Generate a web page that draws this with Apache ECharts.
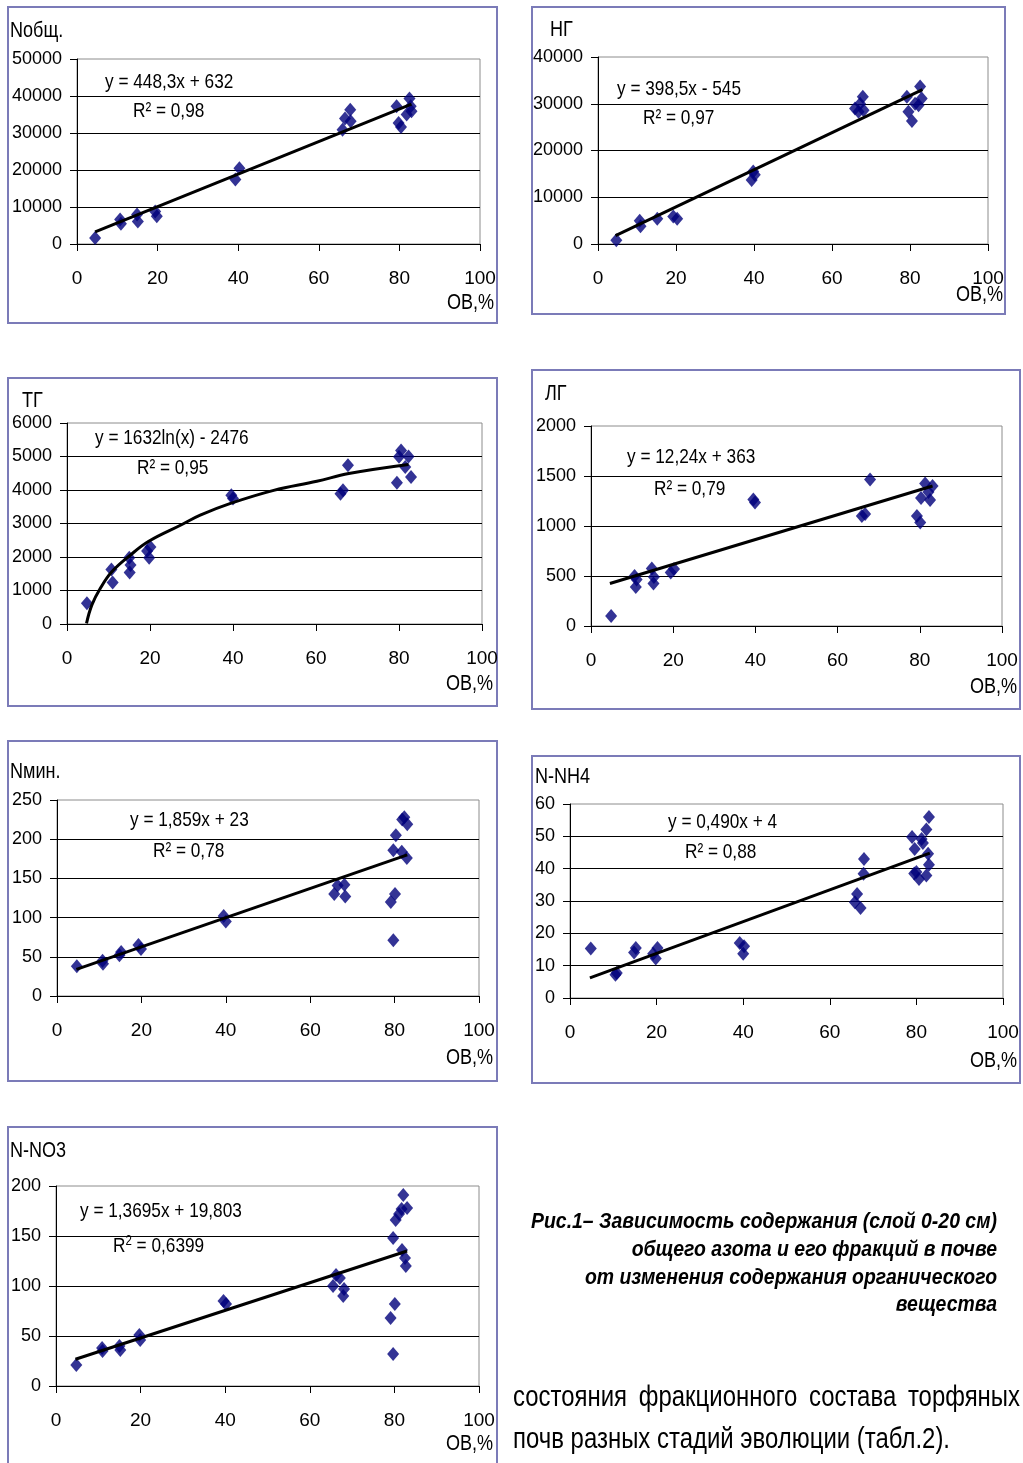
<!DOCTYPE html>
<html>
<head>
<meta charset="utf-8">
<script src="https://cdn.jsdelivr.net/npm/echarts@6/dist/echarts.min.js"></script>
<style>
html,body{margin:0;padding:0;background:#fff;}
#c{width:1023px;height:1463px;}
</style>
</head>
<body>
<div id="c"></div>
<script>
// ---------- DATA ----------
var xTicks = [0, 20, 40, 60, 80, 100];

// Nобщ.
var nobX = [4.5, 10.7, 10.9, 14.9, 15.1, 19.4, 19.8, 39.3, 40.3, 65.9, 66.5, 67.8, 67.9, 79.3, 79.8, 80.4, 81.8, 82.5, 82.8, 83.0];
var nobY = [1600, 6600, 5500, 8000, 6100, 8800, 7500, 17400, 20500, 30900, 33900, 36300, 33200, 37200, 32700, 31600, 35000, 39300, 37200, 35900];
var nobTrendX = [4.5, 83];
var nobTrendY = [3300, 37800];

// НГ
var ngX = [4.7, 10.7, 10.9, 15.2, 19.3, 20.3, 39.4, 39.8, 40.2, 65.9, 66.8, 67.2, 67.9, 68.1, 79.2, 79.6, 80.5, 81.3, 82.2, 82.6, 83.0];
var ngY = [780, 5000, 3800, 5400, 5900, 5400, 13700, 15500, 14800, 29000, 28300, 30000, 31500, 28600, 31500, 28300, 26300, 30000, 29700, 33700, 31100];
var ngTrendX = [4.5, 83.2];
var ngTrendY = [1780, 33000];

// ТГ
var tgX = [4.8, 10.7, 11.0, 15.0, 15.3, 15.1, 19.3, 19.8, 20.1, 39.6, 40.0, 65.9, 66.5, 67.7, 79.5, 80.0, 80.5, 81.5, 82.3, 82.9];
var tgY = [620, 1630, 1240, 1980, 1760, 1540, 2180, 1980, 2300, 3840, 3750, 3890, 3990, 4740, 4220, 4990, 5180, 4690, 5000, 4390];
var tgTrendX = [4.7, 6, 8, 10.8, 15.3, 19.7, 27.7, 32.1, 39.4, 49.8, 60.2, 67.9, 82.3];
var tgTrendY = [20, 570, 1060, 1560, 2060, 2470, 2970, 3250, 3600, 3990, 4260, 4490, 4760];

// ЛГ
var lgX = [4.9, 10.6, 10.9, 11.1, 14.8, 15.2, 15.3, 19.4, 20.2, 39.5, 39.9, 65.9, 66.7, 67.9, 79.3, 80.1, 80.3, 81.3, 82.1, 82.5, 83.1];
var lgY = [100, 500, 390, 465, 575, 425, 490, 535, 570, 1265, 1235, 1100, 1120, 1465, 1100, 1035, 1280, 1425, 1340, 1260, 1400];
var lgTrendX = [4.6, 83.1];
var lgTrendY = [425, 1400];

// Nмин.
var nminX = [4.7, 10.8, 10.9, 14.8, 15.2, 19.3, 19.9, 39.5, 40.0, 65.7, 66.5, 68.1, 68.3, 79.1, 80.1, 79.7, 79.7, 80.3, 81.7, 81.8, 82.3, 83.0, 82.9];
var nminY = [38, 45, 41, 52, 56, 65, 60, 102, 95, 130, 141, 142, 127, 120, 130, 71, 186, 205, 184, 225, 228, 219, 176];
var nminTrendX = [4.6, 83];
var nminTrendY = [34, 180];

// N-NH4
var nh4X = [4.8, 10.5, 10.8, 14.8, 15.2, 19.2, 19.8, 20.2, 39.2, 40.0, 40.2, 65.8, 66.3, 67.1, 67.9, 67.8, 79.0, 79.6, 79.5, 80.0, 80.6, 81.2, 81.5, 82.3, 82.3, 82.7, 82.9, 82.9];
var nh4Y = [15.3, 7.2, 7.7, 14.1, 15.5, 13.7, 12.2, 15.5, 17.0, 13.7, 16.0, 29.6, 32.2, 27.8, 43.0, 38.4, 49.8, 46.1, 38.5, 39.0, 36.8, 49.2, 47.9, 52.1, 37.9, 44.6, 41.2, 56.0];
var nh4TrendX = [4.6, 83.1];
var nh4TrendY = [6.2, 44.8];

// N-NO3
var no3X = [4.8, 10.9, 11.0, 15.0, 15.2, 19.7, 19.9, 39.6, 40.2, 65.5, 66.2, 67.1, 68.1, 67.9, 79.1, 79.7, 79.7, 80.1, 80.3, 81.1, 81.7, 81.8, 82.1, 82.5, 82.7, 83.0];
var no3Y = [21, 38, 35, 40, 36, 51, 46, 85, 82, 100, 111, 108, 97, 90, 68, 148, 32, 82, 166, 172, 177, 136, 191, 128, 120, 178];
var no3TrendX = [4.6, 83];
var no3TrendY = [26.7, 135];

// axis ranges
var yMaxes = [50000, 40000, 6000, 2000, 250, 60, 200];
var yIntervals = [10000, 10000, 1000, 500, 50, 10, 50];

// texts
var yNames = ['Nобщ.', 'НГ', 'ТГ', 'ЛГ', 'Nмин.', 'N-NH4', 'N-NO3'];
var xName = 'OB,%';
var equations = ['y = 448,3x + 632', 'y = 398,5x - 545', 'y = 1632ln(x) - 2476', 'y = 12,24x + 363', 'y = 1,859x + 23', 'y = 0,490x + 4', 'y = 1,3695x + 19,803'];
var r2s = ['0,98', '0,97', '0,95', '0,79', '0,78', '0,88', '0,6399'];
var captionLines = ['Рис.1– Зависимость содержания (слой 0-20 см)', 'общего азота и его фракций в почве', 'от изменения содержания органического', 'вещества'];
var bodyLine1 = ['состояния', 'фракционного', 'состава', 'торфяных'];
var bodyLine2 = 'почв разных стадий эволюции (табл.2).';

// ---------- LAYOUT ----------
var SANS = "'Liberation Sans', Arial, sans-serif";
var NARROW_SCALE = 0.82;

var panels = [
  {x: nobX, y: nobY, tx: nobTrendX, ty: nobTrendY, smooth: false,
   grid: {left: 77, top: 59, width: 403, height: 185}, box: [8, 7, 489, 316],
   name: [10, 31], xname: [494, 303], eq: [105, 82], r2: [133, 111]},
  {x: ngX, y: ngY, tx: ngTrendX, ty: ngTrendY, smooth: false,
   grid: {left: 598, top: 57, width: 390, height: 187}, box: [532, 7, 473, 307],
   name: [550, 30], xname: [1003, 295], eq: [617, 89], r2: [643, 118]},
  {x: tgX, y: tgY, tx: tgTrendX, ty: tgTrendY, smooth: true,
   grid: {left: 67, top: 423, width: 415, height: 201}, box: [8, 378, 489, 328],
   name: [22, 401], xname: [493, 684], eq: [95, 438], r2: [137, 468]},
  {x: lgX, y: lgY, tx: lgTrendX, ty: lgTrendY, smooth: false,
   grid: {left: 591, top: 426, width: 411, height: 200}, box: [532, 370, 488, 339],
   name: [545, 394], xname: [1017, 687], eq: [627, 457], r2: [654, 489]},
  {x: nminX, y: nminY, tx: nminTrendX, ty: nminTrendY, smooth: false,
   grid: {left: 57, top: 800, width: 422, height: 196}, box: [8, 741, 489, 340],
   name: [10, 772], xname: [493, 1058], eq: [130, 820], r2: [153, 851]},
  {x: nh4X, y: nh4Y, tx: nh4TrendX, ty: nh4TrendY, smooth: false,
   grid: {left: 570, top: 804, width: 433, height: 194}, box: [532, 756, 488, 327],
   name: [535, 777], xname: [1017, 1061], eq: [668, 822], r2: [685, 852]},
  {x: no3X, y: no3Y, tx: no3TrendX, ty: no3TrendY, smooth: false,
   grid: {left: 56, top: 1186, width: 423, height: 200}, box: [8, 1127, 489, 345],
   name: [10, 1151], xname: [493, 1444], eq: [80, 1211], r2: [113, 1246]}
];

function zip(a, b) { var o = []; for (var i = 0; i < a.length; i++) o.push([a[i], b[i]]); return o; }
var mctx = document.createElement('canvas').getContext('2d');
function measure(t, font) { mctx.font = font; return mctx.measureText(t).width; }

var grids = [], xAxes = [], yAxes = [], series = [], graphics = [];

function narrowText(x, y, text, size, align) {
  return {type: 'text', x: x, y: y, scaleX: NARROW_SCALE,
    style: {text: text, fill: '#000', font: size + 'px ' + SANS, textAlign: align || 'left', textVerticalAlign: 'middle'}};
}

panels.forEach(function (p, i) {
  grids.push({left: p.grid.left, top: p.grid.top, width: p.grid.width, height: p.grid.height,
    show: true, borderColor: '#8c8c8c', borderWidth: 1, backgroundColor: 'rgba(0,0,0,0)'});
  xAxes.push({type: 'value', gridIndex: i, min: xTicks[0], max: xTicks[xTicks.length - 1], interval: xTicks[1] - xTicks[0],
    axisLine: {show: true, onZero: false, lineStyle: {color: '#000', width: 1}},
    axisTick: {show: true, length: 7, lineStyle: {color: '#000'}},
    axisLabel: {color: '#000', fontSize: 19, fontFamily: SANS, margin: 25, formatter: function (v) { return String(v); }},
    splitLine: {show: false}});
  var nLines = Math.round(yMaxes[i] / yIntervals[i]) + 1;
  var cols = [];
  for (var k = 0; k < nLines; k++) cols.push(k === nLines - 1 ? 'rgba(0,0,0,0)' : '#000');
  yAxes.push({type: 'value', gridIndex: i, min: 0, max: yMaxes[i], interval: yIntervals[i],
    axisLine: {show: true, onZero: false, lineStyle: {color: '#000', width: 1}},
    axisTick: {show: true, length: 7, lineStyle: {color: '#000'}},
    axisLabel: {color: '#000', fontSize: 18, fontFamily: SANS, margin: 15, formatter: function (v) { return String(v); }},
    splitLine: {show: true, lineStyle: {color: cols, width: 1}}});
  series.push({type: 'scatter', xAxisIndex: i, yAxisIndex: i, data: zip(p.x, p.y),
    symbol: 'diamond', symbolSize: [12, 14], itemStyle: {color: '#00007a'}, z: 3, silent: true});
  series.push({type: 'line', xAxisIndex: i, yAxisIndex: i, data: zip(p.tx, p.ty),
    smooth: p.smooth ? 0.4 : false, showSymbol: false, symbol: 'none',
    lineStyle: {color: '#000', width: 3}, z: 4, silent: true});

  graphics.push({type: 'rect', shape: {x: p.box[0], y: p.box[1], width: p.box[2], height: p.box[3]},
    style: {fill: 'none', stroke: '#7b7bb8', lineWidth: 2}, silent: true});
  graphics.push(narrowText(p.name[0], p.name[1], yNames[i], 22));
  graphics.push(narrowText(p.xname[0], p.xname[1], xName, 22, 'right'));
  graphics.push(narrowText(p.eq[0], p.eq[1], equations[i], 21));
  if (i === 6) {
    graphics.push({type: 'text', x: p.r2[0], y: p.r2[1], scaleX: NARROW_SCALE,
      style: {text: '{a|R}{s|2}{a| = ' + r2s[i] + '}', textVerticalAlign: 'middle',
        rich: {a: {fontSize: 21, fontFamily: SANS, color: '#000'},
               s: {fontSize: 14, fontFamily: SANS, color: '#000', verticalAlign: 'top', padding: [0, 0, 10, 0]}}}});
  } else {
    graphics.push(narrowText(p.r2[0], p.r2[1], 'R² = ' + r2s[i], 21));
  }
});

// caption (bold italic, condensed), right-aligned
var capFont = 'italic bold 22px ' + SANS;
var capScale = 466 / measure(captionLines[0], capFont);
var capY = [1222, 1250, 1278, 1305];
captionLines.forEach(function (t, k) {
  graphics.push({type: 'text', x: 997, y: capY[k], scaleX: capScale,
    style: {text: t, fill: '#000', font: capFont, textAlign: 'right', textVerticalAlign: 'middle'}});
});

// body text; first line justified between 513 and 1020
var bodyFont = '29px ' + SANS;
var bodyScale = 437 / measure(bodyLine2, bodyFont);
var wsum = 0, ws = bodyLine1.map(function (w) { var m = measure(w, bodyFont) * bodyScale; wsum += m; return m; });
var gap = (1020 - 513 - wsum) / (bodyLine1.length - 1);
var bx = 513;
bodyLine1.forEach(function (w, k) {
  graphics.push({type: 'text', x: bx, y: 1398, scaleX: bodyScale,
    style: {text: w, fill: '#000', font: bodyFont, textAlign: 'left', textVerticalAlign: 'middle'}});
  bx += ws[k] + gap;
});
graphics.push({type: 'text', x: 513, y: 1440, scaleX: bodyScale,
  style: {text: bodyLine2, fill: '#000', font: bodyFont, textVerticalAlign: 'middle'}});

var chart = echarts.init(document.getElementById('c'), null, {renderer: 'canvas'});
chart.setOption({
  animation: false,
  backgroundColor: '#fff',
  grid: grids, xAxis: xAxes, yAxis: yAxes, series: series, graphic: graphics
});
</script>
</body>
</html>
